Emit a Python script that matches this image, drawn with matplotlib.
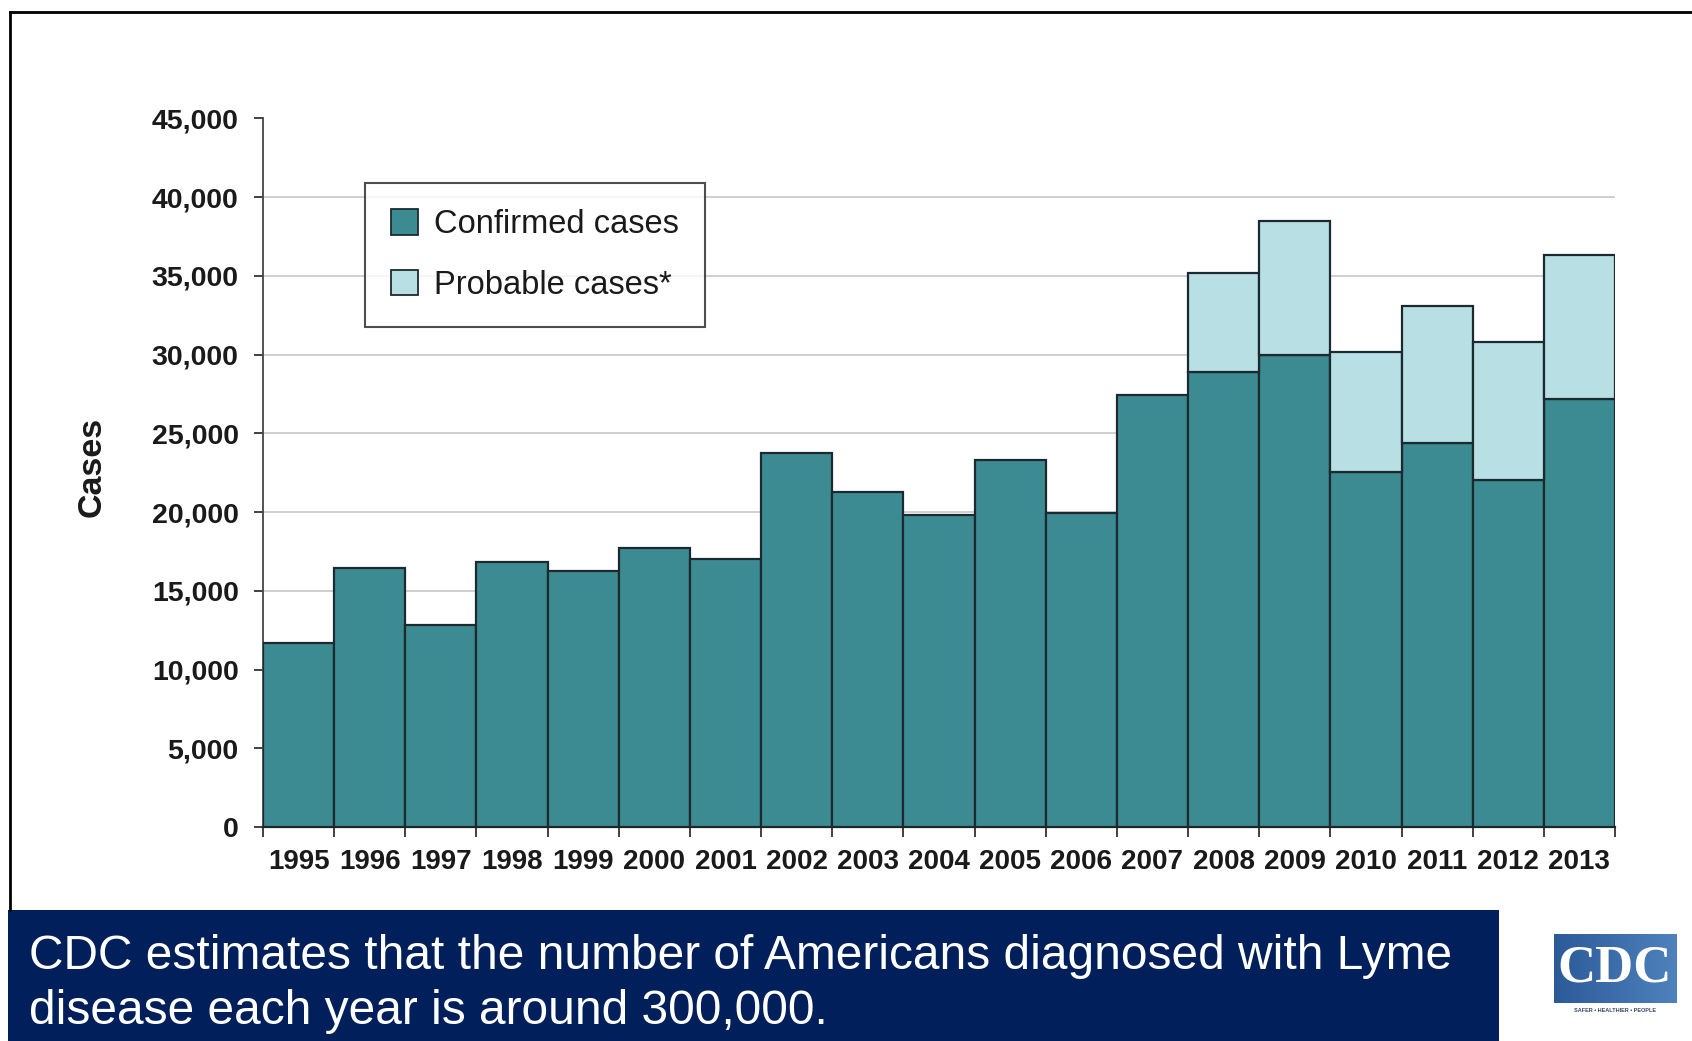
import numpy as np
import matplotlib
matplotlib.use("Agg")
import matplotlib.pyplot as plt
from matplotlib.patches import Rectangle, Patch
from matplotlib.lines import Line2D
from matplotlib.ticker import FuncFormatter, FixedLocator

plt.rcParams['font.family'] = ['Liberation Sans', 'DejaVu Sans']

# Reported Lyme disease cases in the United States, by year
years = [1995, 1996, 1997, 1998, 1999, 2000, 2001, 2002, 2003, 2004,
         2005, 2006, 2007, 2008, 2009, 2010, 2011, 2012, 2013]
confirmed = [11700, 16455, 12801, 16801, 16273, 17730, 17029, 23763, 21273, 19804,
             23305, 19931, 27444, 28921, 29959, 22561, 24364, 22014, 27203]
probable = [0, 0, 0, 0, 0, 0, 0, 0, 0, 0,
            0, 0, 0, 6277, 8509, 7597, 8733, 8817, 9104]
y_ticks = [0, 5000, 10000, 15000, 20000, 25000, 30000, 35000, 40000, 45000]
legend_labels = ["Confirmed cases", "Probable cases*"]
banner_lines = ["CDC estimates that the number of Americans diagnosed with Lyme",
                "disease each year is around 300,000."]

W, H = 1692, 1041
fig = plt.figure(figsize=(W / 100, H / 100), dpi=100)
fig.patch.set_facecolor('white')

def fx(px):
    return px / W

def fy(py):
    return 1 - py / H

TEAL = '#3d8b92'
LIGHT = '#b8dfe3'
EDGE = '#1c2a30'
NAVY = '#001f5b'

# plot area
ax_left, ax_right, ax_top, ax_bottom = 263, 1615, 118.5, 827
ax = fig.add_axes([fx(ax_left), fy(ax_bottom), fx(ax_right - ax_left), (ax_bottom - ax_top) / H])

x = np.arange(len(years))
conf = np.array(confirmed, dtype=float)
prob = np.array(probable, dtype=float)

ax.bar(x, conf, width=1.0, color=TEAL, edgecolor=EDGE, linewidth=1.6, zorder=3)
has_prob = prob > 0
ax.bar(x[has_prob], prob[has_prob], bottom=conf[has_prob], width=1.0,
       color=LIGHT, edgecolor=EDGE, linewidth=1.6, zorder=3)

ax.set_xlim(-0.5, len(years) - 0.5)
ax.set_ylim(0, 45000)
ax.set_yticks(y_ticks)
ax.yaxis.set_major_formatter(FuncFormatter(lambda v, p: f"{int(v):,}"))
ax.yaxis.grid(True, color='#cfcfcf', linewidth=1.4, zorder=0)
ax.set_axisbelow(True)

ax.set_xticks(x)
ax.set_xticklabels([str(y) for y in years])
ax.xaxis.set_minor_locator(FixedLocator(np.arange(len(years) + 1) - 0.5))
ax.tick_params(axis='x', which='major', length=0, pad=16, labelsize=20)
ax.tick_params(axis='x', which='minor', length=7, width=1.3, color='#333333', direction='out')
ax.tick_params(axis='y', which='major', length=6.5, width=1.3, color='#333333',
               pad=11, labelsize=20.5)
for lab in ax.get_xticklabels() + ax.get_yticklabels():
    lab.set_fontweight('bold')
    lab.set_color('#1a1a1a')

for side in ('top', 'right'):
    ax.spines[side].set_visible(False)
ax.spines['left'].set_color('#444444')
ax.spines['left'].set_linewidth(1.3)
ax.spines['bottom'].set_color('#222222')
ax.spines['bottom'].set_linewidth(1.6)

fig.text(fx(92), fy(467), "Cases", rotation=90, ha='center', va='center',
         fontsize=24.5, fontweight='bold', color='#1a1a1a')

handles = [Patch(facecolor=TEAL, edgecolor=EDGE, linewidth=1.3),
           Patch(facecolor=LIGHT, edgecolor=EDGE, linewidth=1.3)]
leg = ax.legend(handles, legend_labels, loc='upper left',
                bbox_to_anchor=(fx(365), fy(183)), bbox_transform=fig.transFigure,
                fontsize=23.5, frameon=True, fancybox=False, edgecolor='#222222',
                handlelength=0.82, handleheight=0.82, handletextpad=0.5,
                borderpad=0.8, labelspacing=0.9, borderaxespad=0)
leg.get_frame().set_linewidth(1.5)
for t in leg.get_texts():
    t.set_color('#1a1a1a')

# slide frame
fig.add_artist(Line2D([fx(10), 1.0], [fy(12), fy(12)], color='black', linewidth=2))
fig.add_artist(Line2D([fx(10), fx(10)], [fy(12), fy(910)], color='black', linewidth=2))

# banner
fig.add_artist(Rectangle((fx(8), 0), fx(1499 - 8), (H - 910) / H,
                         facecolor=NAVY, edgecolor='none', transform=fig.transFigure))
fig.text(fx(29), fy(969), banner_lines[0], ha='left', va='baseline',
         fontsize=34.5, color='white')
fig.text(fx(29), fy(1024), banner_lines[1], ha='left', va='baseline',
         fontsize=34.5, color='white')

# CDC logo
logo_ax = fig.add_axes([fx(1554), fy(1003), fx(1676 - 1554), (1003 - 934) / H])
grad = np.linspace(0, 1, 256).reshape(1, -1)
cmap = matplotlib.colors.LinearSegmentedColormap.from_list('logo', ['#2b5a98', '#4f82bd'])
logo_ax.imshow(grad, aspect='auto', cmap=cmap, extent=(0, 1, 0, 1))
logo_ax.text(0.5, 0.5, "CDC", ha='center', va='center', color='white',
             fontsize=38, fontweight='bold', family=['Liberation Serif', 'DejaVu Serif'])
logo_ax.set_axis_off()
fig.text(fx(1615), fy(1010), "SAFER \u2022 HEALTHIER \u2022 PEOPLE", ha='center', va='center',
         fontsize=4, color='#3a4a66', fontweight='bold')

fig.savefig("out.png", dpi=100, facecolor='white')
